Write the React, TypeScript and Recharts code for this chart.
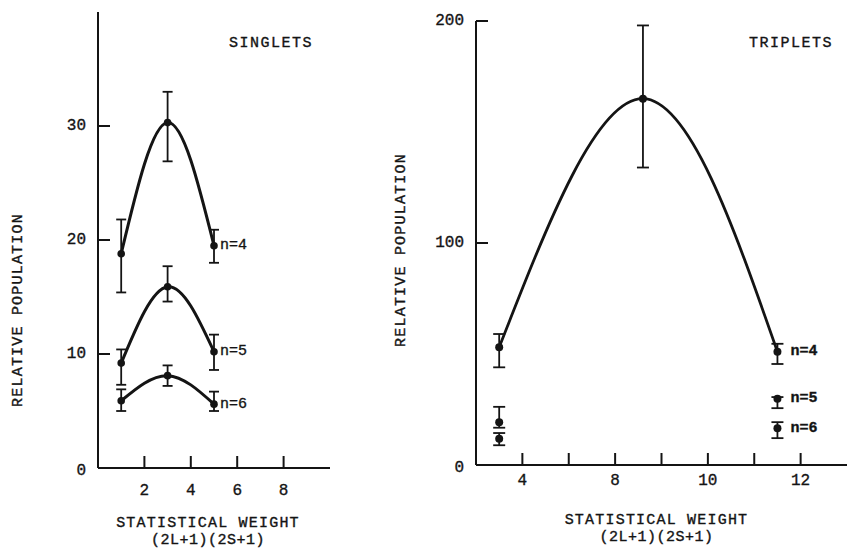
import React from 'react';
import { ComposedChart, Line, XAxis, YAxis, ErrorBar } from 'recharts';

const INK = '#141414';
const FONT = "'Liberation Mono', 'DejaVu Sans Mono', monospace";
const TICK_GAP = 10;

// singlets (left panel)
const singletWeights = [1, 3, 5];
const singletN4 = [18.8, 30.3, 19.5];
const singletN4Low = [15.4, 26.9, 18.0];
const singletN4High = [21.8, 33.0, 20.9];
const singletN5 = [9.2, 15.9, 10.2];
const singletN5Low = [7.3, 14.6, 8.6];
const singletN5High = [10.4, 17.7, 11.7];
const singletN6 = [5.9, 8.1, 5.6];
const singletN6Low = [5.0, 7.2, 5.0];
const singletN6High = [6.9, 9.0, 6.7];
const singletXTicks = [2, 4, 6, 8];
const singletYTicks = [0, 10, 20, 30];

// triplets (right panel)
const tripletWeights = [5.5, 8.6, 11.5];
const tripletOuterWeights = [5.5, 11.5];
const tripletN4 = [53, 165, 51];
const tripletN4Low = [44, 134, 45.5];
const tripletN4High = [59, 198, 54.6];
const tripletN5 = [19.3, 29.8];
const tripletN5Low = [16.8, 25.6];
const tripletN5High = [26.2, 30.6];
const tripletN6 = [11.8, 16.5];
const tripletN6Low = [8.9, 12.1];
const tripletN6High = [14.4, 19.3];
const tripletXTicks = [6, 7, 8, 9, 10, 11, 12];
const tripletXTickLabels = ['4', '', '8', '', '10', '', '12'];
const tripletYTicks = [0, 100, 200];

const toRows = (xs: number[], ys: number[], lo: number[], hi: number[]) =>
  xs.map((x, i) => ({ x, y: ys[i], err: [ys[i] - lo[i], hi[i] - ys[i]] }));

// slight stroke to get the heavier look of the typewritten scan
const textStyle = { fontFamily: FONT, fill: INK, stroke: INK, strokeWidth: 0.35 } as const;

// dot that also writes the "n=" tag beside the last point
const makeDot = (tag: string, count: number, r: number, dx: number, bold: boolean) => (p: any) => {
  const { cx, cy, index } = p;
  return (
    <g key={`dot-${tag}-${index}`}>
      <circle cx={cx} cy={cy} r={r} fill={INK} stroke="none" />
      {index === count - 1 && (
        <text x={cx + dx} y={cy} dominantBaseline="central" fontSize={15}
          fontWeight={bold ? 700 : 400} {...textStyle}>{tag}</text>
      )}
    </g>
  );
};

const makeXTick = (labelFor: (v: number) => string, labelDy: number) => (p: any) => {
  const { x, y, payload } = p;
  const axisY = y - TICK_GAP;
  const text = labelFor(payload.value);
  return (
    <g>
      <line x1={x} y1={axisY} x2={x} y2={axisY - 12} stroke={INK} strokeWidth={2} />
      {text && (
        <text x={x} y={axisY + labelDy} textAnchor="middle" dominantBaseline="central"
          fontSize={16} {...textStyle}>{text}</text>
      )}
    </g>
  );
};

const makeYTick = (p: any) => {
  const { x, y, payload } = p;
  const axisX = x + TICK_GAP;
  return (
    <g>
      {payload.value !== 0 && (
        <line x1={axisX} y1={y} x2={axisX + 12} y2={y} stroke={INK} strokeWidth={2} />
      )}
      <text x={axisX - 12} y={y + (payload.value === 0 ? 3 : 0)} textAnchor="end"
        dominantBaseline="central" fontSize={16} {...textStyle}>{payload.value}</text>
    </g>
  );
};

const xTitle = (shift: number) => (p: any) => {
  const vb = p.viewBox;
  const cx = vb.x + vb.width / 2 + shift;
  return (
    <g>
      <text x={cx} y={vb.y + 55} textAnchor="middle" dominantBaseline="central" fontSize={15}
        letterSpacing={1.2} {...textStyle}>STATISTICAL WEIGHT</text>
      <text x={cx} y={vb.y + 72} textAnchor="middle" dominantBaseline="central" fontSize={15}
        letterSpacing={0.5} {...textStyle}>(2L+1)(2S+1)</text>
    </g>
  );
};

const yTitle = (lx: number, ly: number, title: string, tx: number, ty: number) => () => (
  <g>
    <text x={lx} y={ly} transform={`rotate(-90 ${lx} ${ly})`} textAnchor="middle"
      dominantBaseline="central" fontSize={15} letterSpacing={1.2} {...textStyle}>RELATIVE POPULATION</text>
    <text x={tx} y={ty} textAnchor="middle" dominantBaseline="central" fontSize={15}
      letterSpacing={1.5} {...textStyle}>{title}</text>
  </g>
);

const axisLine = { stroke: INK, strokeWidth: 2 };

const SingletsPanel = () => {
  const n4 = toRows(singletWeights, singletN4, singletN4Low, singletN4High);
  const n5 = toRows(singletWeights, singletN5, singletN5Low, singletN5High);
  const n6 = toRows(singletWeights, singletN6, singletN6Low, singletN6High);
  const series = [
    { tag: 'n=4', rows: n4 },
    { tag: 'n=5', rows: n5 },
    { tag: 'n=6', rows: n6 },
  ];
  return (
    <ComposedChart width={420} height={554} margin={{ top: 12, right: 90, bottom: 0, left: 0 }}>
      <XAxis type="number" dataKey="x" domain={[0, 10]} ticks={singletXTicks} interval={0}
        allowDataOverflow axisLine={axisLine} tickLine={false} tickSize={0} tickMargin={TICK_GAP}
        height={86} tick={makeXTick((v) => String(v), 23)} label={{ content: xTitle(-6) }} />
      <YAxis type="number" domain={[0, 40]} ticks={singletYTicks} interval={0} allowDataOverflow
        width={98} axisLine={axisLine} tickLine={false} tickSize={0} tickMargin={TICK_GAP}
        tick={makeYTick} label={{ content: yTitle(18, 310, 'SINGLETS', 271, 43) }} />
      {series.map((s) => (
        <Line key={s.tag} data={s.rows} dataKey="y" type="natural" stroke={INK} strokeWidth={3}
          dot={makeDot(s.tag, s.rows.length, 3.8, 6, false)} activeDot={false}
          isAnimationActive={false}>
          <ErrorBar dataKey="err" direction="y" width={5} stroke={INK} strokeWidth={1.8} />
        </Line>
      ))}
    </ComposedChart>
  );
};

const TripletsPanel = () => {
  const n4 = toRows(tripletWeights, tripletN4, tripletN4Low, tripletN4High);
  const n5 = toRows(tripletOuterWeights, tripletN5, tripletN5Low, tripletN5High);
  const n6 = toRows(tripletOuterWeights, tripletN6, tripletN6Low, tripletN6High);
  const series = [
    { tag: 'n=4', rows: n4, stroke: INK },
    { tag: 'n=5', rows: n5, stroke: 'none' },
    { tag: 'n=6', rows: n6, stroke: 'none' },
  ];
  return (
    <ComposedChart width={472} height={554} margin={{ top: 21, right: 5, bottom: 0, left: 0 }}>
      <XAxis type="number" dataKey="x" domain={[5, 13]} ticks={tripletXTicks} interval={0}
        allowDataOverflow axisLine={axisLine} tickLine={false} tickSize={0} tickMargin={TICK_GAP}
        height={89} tick={makeXTick((v) => tripletXTickLabels[tripletXTicks.indexOf(v)] ?? '', 16)}
        label={{ content: xTitle(-5) }} />
      <YAxis type="number" domain={[0, 200]} ticks={tripletYTicks} interval={0} allowDataOverflow
        width={96} axisLine={axisLine} tickLine={false} tickSize={0} tickMargin={TICK_GAP}
        tick={makeYTick} label={{ content: yTitle(21, 250, 'TRIPLETS', 411, 43) }} />
      {series.map((s) => (
        <Line key={s.tag} data={s.rows} dataKey="y" type="natural" stroke={s.stroke} strokeWidth={2.8}
          dot={makeDot(s.tag, s.rows.length, 4, 13, true)} activeDot={false}
          isAnimationActive={false}>
          <ErrorBar dataKey="err" direction="y" width={6} stroke={INK} strokeWidth={1.8} />
        </Line>
      ))}
    </ComposedChart>
  );
};

export default function App() {
  return (
    <div style={{ position: 'absolute', left: 0, top: 0, width: 852, height: 554, overflow: 'hidden', background: '#fff' }}>
      <div style={{ position: 'absolute', left: 0, top: 0 }}>
        <SingletsPanel />
      </div>
      <div style={{ position: 'absolute', left: 380, top: 0 }}>
        <TripletsPanel />
      </div>
    </div>
  );
}
